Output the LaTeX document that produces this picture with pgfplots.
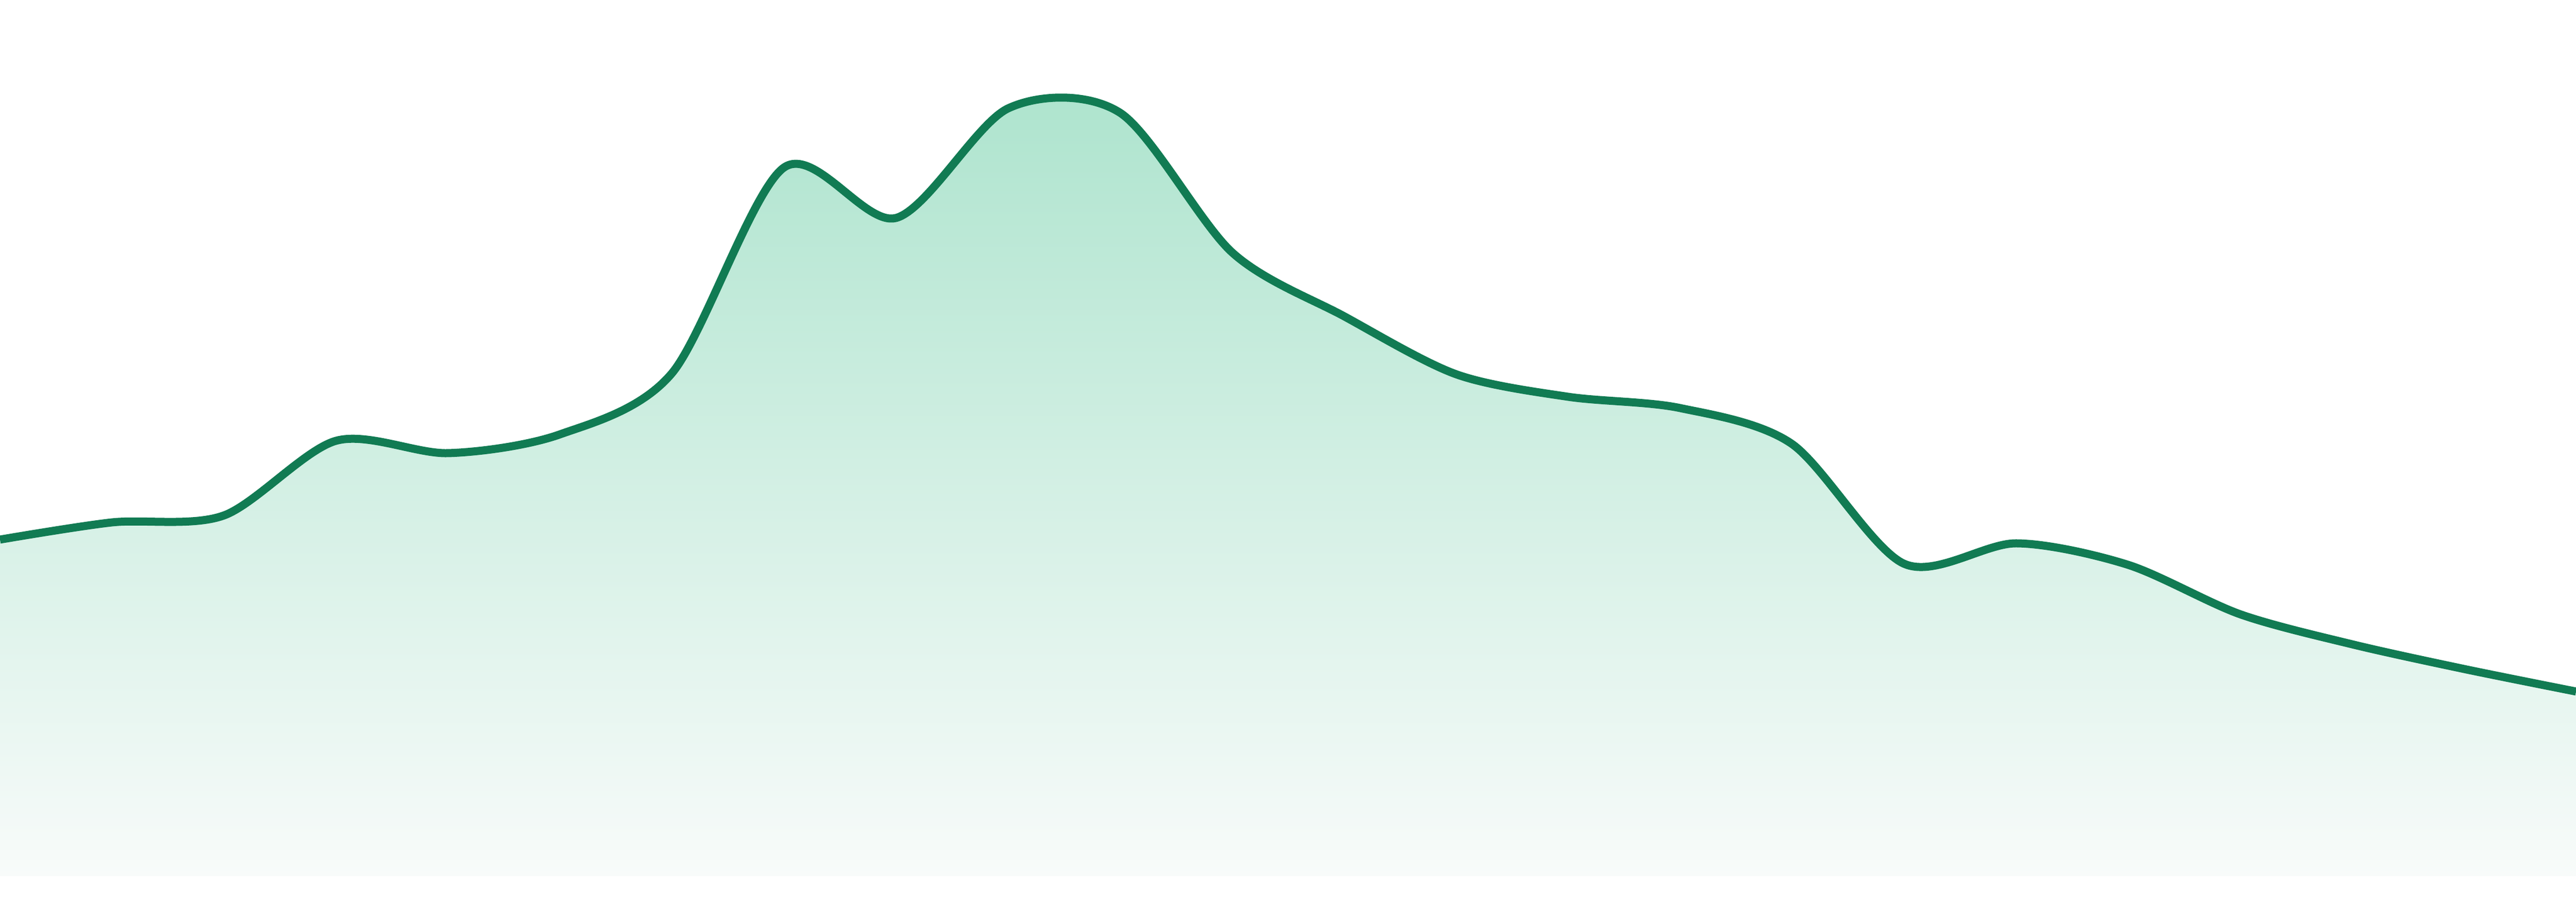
\documentclass[border=0pt]{standalone}
\usepackage{pgfplots}
\pgfplotsset{compat=1.18}
\usepackage{pgfplotstable}

\definecolor{linegreen}{RGB}{17,123,83}
\definecolor{filltop}{RGB}{174,228,206}
\definecolor{fillbot}{RGB}{248,251,250}

\pgfplotstableread{
x  y
0  62.7
1  65.9
2  67.2
3  81.1
4  78.8
5  82.3
6  93.7
7  132.0
8  122.6
9  143.0
10 142.2
11 116.2
12 104.3
13 93.5
14 89.3
15 87.2
16 80.5
17 58.2
18 62.0
19 58.0
20 48.8
21 43.2
22 38.6
23 34.4
}\series

\begin{document}
\begin{tikzpicture}
\begin{axis}[
    width=480pt,
    height=168pt,
    scale only axis,
    hide axis,
    xmin=0, xmax=23,
    ymin=-4.8, ymax=163.2,
]
\path (rel axis cs:0,0) rectangle (rel axis cs:1,1);

% area under the curve, fading downwards
\addplot[draw=none, top color=filltop, bottom color=fillbot,
    smooth, tension=0.5] table[x=x, y=y] {\series} \closedcycle;

% the line itself
\addplot[color=linegreen, line width=1.5pt, line join=round,
    smooth, tension=0.5] table[x=x, y=y] {\series};
\end{axis}
\end{tikzpicture}
\end{document}
